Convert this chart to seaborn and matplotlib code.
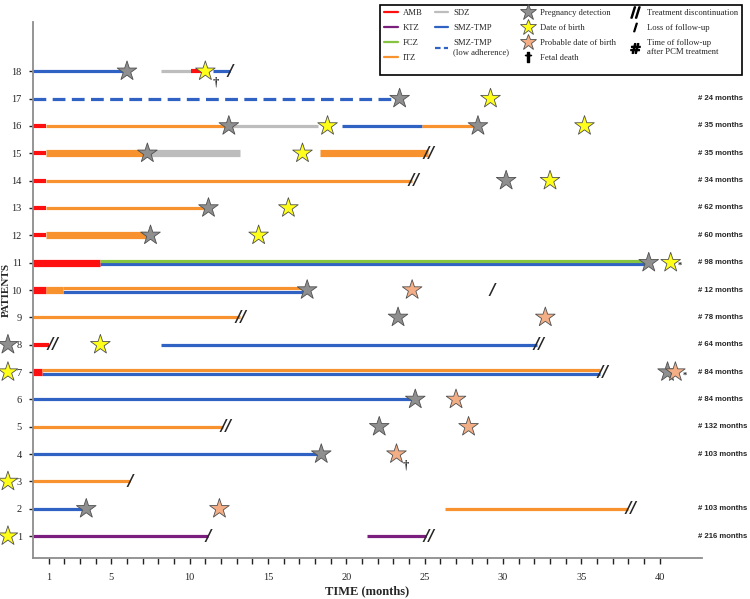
import numpy as np
import pandas as pd
import matplotlib
matplotlib.use("Agg")
import matplotlib.pyplot as plt
from matplotlib.lines import Line2D
import seaborn as sns

# ---------------- data ----------------
seg_patient = [18, 18, 18, 18,
               17,
               16, 16, 16, 16, 16,
               15, 15, 15, 15,
               14, 14,
               13, 13,
               12, 12,
               11, 11, 11,
               10, 10, 10, 10,
               9,
               8, 8,
               7, 7, 7,
               6, 5, 4, 3,
               2, 2,
               1, 1]
seg_start = [0.0, 8.2, 10.1, 11.5,
             0.0,
             0.0, 0.8, 12.5, 19.7, 24.8,
             0.0, 0.8, 7.3, 18.3,
             0.0, 0.8,
             0.0, 0.8,
             0.0, 0.8,
             0.0, 4.3, 4.3,
             0.0, 0.8, 1.9, 1.9,
             0.0,
             0.0, 8.2,
             0.0, 0.6, 0.6,
             0.0, 0.0, 0.0, 0.0,
             0.0, 26.3,
             0.0, 21.3]
seg_end = [6.0, 10.1, 11.0, 12.6,
           23.4,
           0.8, 12.5, 18.2, 24.8, 28.4,
           0.8, 7.3, 13.2, 25.2,
           0.8, 24.2,
           0.8, 11.1,
           0.8, 7.2,
           4.3, 39.4, 39.4,
           0.8, 1.9, 17.4, 17.4,
           13.2,
           1.0, 32.2,
           0.6, 36.2, 36.2,
           24.4, 12.1, 18.4, 6.2,
           3.4, 38.0,
           11.2, 25.1]
seg_drug = ["SMZ-TMP", "SDZ", "AMB", "SMZ-TMP",
            "SMZ-TMP low",
            "AMB", "ITZ", "SDZ", "SMZ-TMP", "ITZ",
            "AMB", "ITZ", "SDZ", "ITZ",
            "AMB", "ITZ",
            "AMB", "ITZ",
            "AMB", "ITZ",
            "AMB", "FCZ", "SMZ-TMP",
            "AMB", "ITZ", "ITZ", "SMZ-TMP",
            "ITZ",
            "AMB", "SMZ-TMP",
            "AMB", "ITZ", "SMZ-TMP",
            "SMZ-TMP", "ITZ", "SMZ-TMP", "ITZ",
            "SMZ-TMP", "ITZ",
            "KTZ", "KTZ"]
seg_weight = ["single", "single", "single", "single",
              "single",
              "single", "single", "single", "single", "single",
              "single", "thick", "thick", "thick",
              "single", "single",
              "single", "single",
              "single", "thick",
              "thick", "single", "single",
              "thick", "thick", "single", "single",
              "single",
              "single", "single",
              "thick", "single", "single",
              "single", "single", "single", "single",
              "single", "single",
              "single", "single"]

ev_patient = [18, 18, 17, 17, 16, 16, 16, 16, 15, 15, 14, 14, 13, 13, 12, 12,
              11, 11, 10, 10, 9, 9, 8, 8, 7, 7, 7, 6, 6, 5, 5, 4, 4, 3, 2, 2, 1]
ev_time = [6.0, 11.0, 23.4, 29.2, 12.5, 18.8, 28.4, 35.2, 7.3, 17.2, 30.2, 33.0,
           11.2, 16.3, 7.5, 14.4, 39.3, 40.7, 17.5, 24.2, 23.3, 32.7, -1.6, 4.3,
           -1.6, 40.5, 41.0, 24.4, 27.0, 22.1, 27.8, 18.4, 23.2, -1.6, 3.4, 11.9, -1.6]
ev_type = ["preg", "birth", "preg", "birth", "preg", "birth", "preg", "birth",
           "preg", "birth", "preg", "birth", "preg", "birth", "preg", "birth",
           "preg", "birth", "preg", "prob", "preg", "prob", "preg", "birth",
           "birth", "preg", "prob", "preg", "prob", "preg", "prob", "preg", "prob",
           "birth", "preg", "prob", "birth"]

disc_patient = [15, 14, 9, 8, 8, 7, 5, 2, 1]
disc_time = [25.3, 24.3, 13.3, 1.3, 32.3, 36.4, 12.3, 38.2, 25.3]
loss_patient = [18, 10, 3, 1]
loss_time = [12.6, 29.3, 6.2, 11.2]
death_patient = [18, 4]
death_time = [11.7, 23.8]
note_patient = [11, 7]
note_time = [40.7, 41.0]

followup_patient = [17, 16, 15, 14, 13, 12, 11, 10, 9, 8, 7, 6, 5, 4, 2, 1]
followup_months = [24, 35, 35, 34, 62, 60, 98, 12, 78, 64, 84, 84, 132, 103, 103, 216]

x_ticks = list(range(1, 41))
x_labels = [1, 5, 10, 15, 20, 25, 30, 35, 40]

# ---------------- styling ----------------
drug_colors = {"AMB": "#FF1010", "KTZ": "#7A1F7E", "FCZ": "#86C440",
               "ITZ": "#F7922E", "SDZ": "#BDBDBD", "SMZ-TMP": "#2F62C2",
               "SMZ-TMP low": "#2F62C2"}
event_colors = {"preg": "#8F8F8F", "birth": "#FFFF1A", "prob": "#F4AE85"}

sns.set_theme(style="ticks")
plt.rcParams["font.family"] = ["Liberation Serif", "DejaVu Serif"]

fig = plt.figure(figsize=(7.5, 5.99), dpi=100)
ax = fig.add_axes([33 / 750, 1 - 558 / 599, 669 / 750, 536 / 599])

segs = pd.DataFrame({"patient": seg_patient, "start": seg_start, "end": seg_end,
                     "drug": seg_drug, "weight": seg_weight})
# concurrent drugs share a row: split them into upper / lower lanes
offsets = []
for i, r in segs.iterrows():
    same = segs[(segs.patient == r.patient) & (segs.index != i)]
    ov = same[(same.start < r.end - 1e-6) & (same.end > r.start + 1e-6)]
    if len(ov) == 0:
        offsets.append(0.0)
    else:
        offsets.append(0.065 if i < ov.index.min() else -0.065)
segs["offset"] = offsets
segs["size"] = np.where((segs.drug == "AMB") & (segs.weight == "single"), "mid", segs.weight)
segs["adherence"] = np.where(segs.drug == "SMZ-TMP low", "low", "regular")

rows = []
for i, r in segs.iterrows():
    for t in (r.start, r.end):
        rows.append({"seg": i, "time": t, "ypos": r.patient + r.offset,
                     "drug": r.drug, "size": r["size"], "adherence": r.adherence})
long = pd.DataFrame(rows)

sns.lineplot(data=long, x="time", y="ypos", hue="drug", palette=drug_colors,
             size="size", sizes={"single": 2.3, "mid": 3.0, "thick": 5.2},
             style="adherence", dashes={"regular": "", "low": (4, 2)},
             units="seg", estimator=None, sort=False, legend=False, ax=ax,
             solid_capstyle="butt", dash_capstyle="butt")

events = pd.DataFrame({"patient": ev_patient, "time": ev_time, "event": ev_type})
sns.scatterplot(data=events, x="time", y="patient", hue="event", palette=event_colors,
                marker="*", s=220, edgecolor="#505050", linewidth=0.6, legend=False,
                ax=ax, clip_on=False, zorder=5)

for p, t in zip(disc_patient, disc_time):
    ax.text(t, p, "//", ha="center", va="center", fontsize=11, fontweight="bold",
            style="italic", family=["DejaVu Sans"], zorder=6)
for p, t in zip(loss_patient, loss_time):
    ax.text(t, p, "/", ha="center", va="center", fontsize=11, fontweight="bold",
            style="italic", family=["DejaVu Sans"], zorder=6)
for p, t in zip(death_patient, death_time):
    ax.text(t, p - 0.42, "\u2020", ha="center", va="center", fontsize=9,
            fontweight="bold", zorder=6)
for p, t in zip(note_patient, note_time):
    ax.text(t + 0.45, p - 0.12, "*", ha="left", va="center", fontsize=6,
            fontweight="bold", zorder=6, clip_on=False)
for p, m in zip(followup_patient, followup_months):
    ax.text(42.45, p, f"# {m} months", ha="left", va="center", fontsize=5.6,
            fontweight="bold", family=["Liberation Sans", "DejaVu Sans"], clip_on=False)

ax.set_xlim(0, 42.7)
ax.set_ylim(0.2, 19.8)
ax.set_xticks(x_ticks)
ax.set_xticklabels([str(t) if t in x_labels else "" for t in x_ticks], fontsize=7.5)
ax.set_yticks(range(1, 19))
ax.set_yticklabels([str(p) for p in range(1, 19)], fontsize=7.5)
ax.tick_params(axis="x", length=4, width=1.0, color="#222222", pad=7)
ax.tick_params(axis="y", length=3, width=1.0, color="#222222", pad=5)
for s in ("top", "right"):
    ax.spines[s].set_visible(False)
for s in ("left", "bottom"):
    ax.spines[s].set_color("#8C8C8C")
    ax.spines[s].set_linewidth(1.3)
ax.set_xlabel("TIME (months)", fontsize=9, fontweight="bold", labelpad=2)
ax.set_ylabel("PATIENTS", fontsize=8, fontweight="bold")
ax.yaxis.set_label_coords(-0.033, 0.5)

blank = Line2D([], [], alpha=0)
handles = [
    Line2D([], [], color=drug_colors["AMB"], lw=1.6),
    Line2D([], [], color=drug_colors["KTZ"], lw=1.6),
    Line2D([], [], color=drug_colors["FCZ"], lw=1.6),
    Line2D([], [], color=drug_colors["ITZ"], lw=1.6),
    Line2D([], [], color=drug_colors["SDZ"], lw=1.6),
    Line2D([], [], color=drug_colors["SMZ-TMP"], lw=1.6),
    Line2D([], [], color=drug_colors["SMZ-TMP"], lw=1.6, ls=(0, (2.5, 1.5))),
    blank,
    Line2D([], [], marker="*", ls="", ms=12, mfc=event_colors["preg"], mec="#505050", mew=0.6),
    Line2D([], [], marker="*", ls="", ms=12, mfc=event_colors["birth"], mec="#505050", mew=0.6),
    Line2D([], [], marker="*", ls="", ms=12, mfc=event_colors["prob"], mec="#505050", mew=0.6),
    Line2D([], [], marker="$\\dagger$", ls="", ms=7, color="black"),
    Line2D([], [], marker="$//$", ls="", ms=8, color="black"),
    Line2D([], [], marker="$/$", ls="", ms=6, color="black"),
    Line2D([], [], marker="$\\#$", ls="", ms=7, color="black"),
    blank,
]
labels = ["AMB", "KTZ", "FCZ", "ITZ", "SDZ", "SMZ-TMP", "SMZ-TMP\n(low adherence)", "",
          "Pregnancy detection", "Date of birth", "Probable date of birth", "Fetal death",
          "Treatment discontinuation", "Loss of follow-up",
          "Time of follow-up\nafter PCM treatment", ""]
leg = fig.legend(handles, labels, ncol=4, loc="upper left",
                 bbox_to_anchor=(376 / 750, 1 - 1 / 599), frameon=True, fancybox=False,
                 handlelength=1.6, handletextpad=0.6, columnspacing=1.35,
                 labelspacing=0.8, borderpad=0.45,
                 prop={"family": ["Liberation Serif"], "size": 6.2})
leg.get_frame().set_edgecolor("black")
leg.get_frame().set_linewidth(1.2)
leg.get_frame().set_alpha(1)

fig.savefig("out.png", dpi=100)
